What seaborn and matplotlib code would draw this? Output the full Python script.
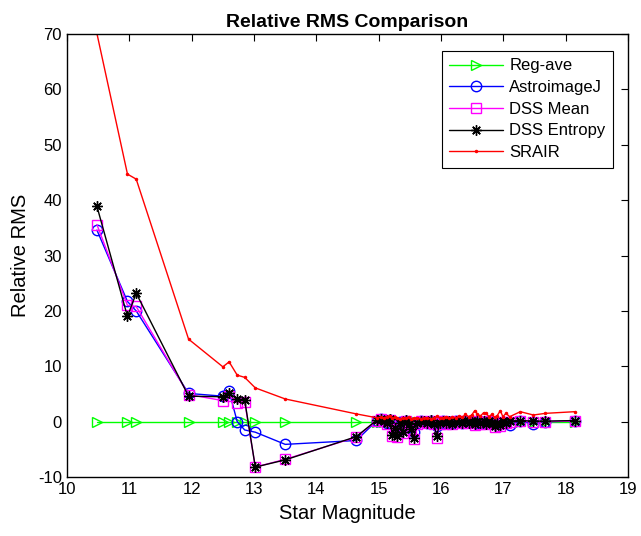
import matplotlib
matplotlib.use("Agg")
import matplotlib.pyplot as plt
import seaborn as sns
import pandas as pd

# Star magnitudes shared by all photometry methods
star_mag = [10.48, 10.97, 11.11, 11.95, 12.50, 12.60, 12.73, 12.85, 13.02, 13.50, 14.64,
            14.97, 15.03, 15.08, 15.13, 15.18, 15.22, 15.26, 15.30, 15.34, 15.39, 15.43,
            15.48, 15.52, 15.56, 15.61, 15.67, 15.72, 15.78, 15.83, 15.88, 15.93, 15.98,
            16.03, 16.08, 16.13, 16.18, 16.24, 16.29, 16.34, 16.39, 16.44, 16.49, 16.54,
            16.58, 16.63, 16.68, 16.72, 16.77, 16.81, 16.86, 16.90, 16.95, 16.99, 17.04,
            17.10, 17.27, 17.48, 17.67, 18.14]

reg_ave = [0.0] * len(star_mag)

astroimagej = [34.6, 21.7, 20.0, 5.1, 4.6, 5.5, 0.0, -1.5, -1.9, -4.1, -3.4,
               0.2, 0.4, 0.1, -0.2, 0.3, -0.5, -0.3, -0.6, -0.1, -1.0, 0.2,
               -0.9, -0.4, -1.8, -0.2, 0.1, 0.0, -0.2, 0.2, -0.3, -0.8, -0.2,
               0.1, -0.2, 0.0, -0.3, 0.1, -0.1, -0.2, 0.2, -0.1, 0.0, -0.3,
               0.1, -0.2, 0.0, -0.3, 0.1, -0.2, -0.5, -0.2, -0.4, 0.0, -0.2,
               -0.6, 0.1, -0.4, 0.0, 0.1]

dss_mean = [35.6, 21.0, 20.8, 4.9, 3.8, 4.7, 3.4, 3.6, -8.2, -6.8, -2.8,
            0.2, 0.4, 0.1, -0.4, 0.3, -2.6, -1.3, -2.8, -0.3, -2.0, 0.2,
            -0.6, -1.5, -3.1, -0.4, 0.1, 0.0, -0.3, 0.2, -0.5, -2.9, -0.4,
            0.1, -0.4, 0.0, -0.5, 0.1, -0.1, -0.3, 0.2, -0.3, 0.0, -0.6,
            0.1, -0.4, 0.0, -0.5, 0.1, -0.3, -0.9, -0.4, -0.7, 0.0, -0.3,
            0.0, 0.1, 0.0, 0.0, 0.1]

dss_entropy = [38.9, 19.0, 23.2, 4.6, 4.5, 5.1, 4.1, 3.9, -8.2, -6.9, -2.7,
               0.3, 0.5, 0.2, -0.3, 0.4, -2.4, -1.2, -2.6, -0.2, -1.9, 0.3,
               -0.5, -1.4, -3.0, -0.3, 0.2, 0.1, -0.2, 0.3, -0.4, -2.5, -0.3,
               0.2, -0.3, 0.1, -0.4, 0.2, 0.0, -0.2, 0.3, -0.2, 0.1, -0.5,
               0.2, -0.3, 0.1, -0.4, 0.2, -0.2, -0.8, -0.3, -0.6, 0.1, -0.2,
               0.1, 0.2, 0.1, 0.1, 0.2]

srair = [70.1, 44.7, 43.8, 14.9, 9.9, 10.8, 8.4, 8.0, 6.1, 4.1, 1.4,
         0.7, 0.8, 0.6, 0.9, 1.1, 0.6, 0.8, 0.7, 0.5, 0.7, 0.6,
         0.8, 0.5, 0.6, 0.7, 0.5, 0.6, 0.7, 0.5, 0.6, 1.0, 0.6,
         0.7, 0.9, 0.6, 0.8, 0.7, 1.0, 0.8, 1.3, 0.9, 1.2, 2.0,
         1.4, 1.0, 1.6, 1.5, 0.9, 1.3, 0.8, 1.1, 2.0, 0.9, 1.5,
         0.9, 1.8, 1.2, 1.5, 1.8]

# (label, values, marker, colour, marker size, filled)
series = [
    ("Reg-ave", reg_ave, ">", (0, 1, 0), 7, False),
    ("AstroimageJ", astroimagej, "o", (0, 0, 1), 7.5, False),
    ("DSS Mean", dss_mean, "s", (1, 0, 1), 6.5, False),
    ("DSS Entropy", dss_entropy, (8, 2, 0), (0, 0, 0), 7.5, False),
    ("SRAIR", srair, ".", (1, 0, 0), 3, True),
]

sns.set_style("white")
plt.rcParams["font.family"] = ["Liberation Sans", "DejaVu Sans"]
plt.rcParams["axes.unicode_minus"] = False
plt.rcParams["text.color"] = "black"
plt.rcParams["axes.labelcolor"] = "black"

fig = plt.figure(figsize=(6.41, 5.36), dpi=100)
ax = fig.add_axes([0.1045, 0.110, 0.8755, 0.8265])

for name, vals, mk, col, ms, filled in series:
    df = pd.DataFrame({"mag": star_mag, "rms": vals})
    sns.lineplot(data=df, x="mag", y="rms", ax=ax, sort=False, estimator=None,
                 color=col, linewidth=1.0, marker=mk, markersize=ms,
                 markerfacecolor=col if filled else "none",
                 markeredgecolor=col, markeredgewidth=1.0, label=name)

ax.set_xlim(10, 19)
ax.set_ylim(-10, 70)
ax.set_xticks(range(10, 20))
ax.set_yticks(range(-10, 71, 10))
ax.tick_params(direction="in", top=True, right=True, length=5, width=0.8,
               labelsize=12, colors="black")
for sp in ax.spines.values():
    sp.set_color("black")
    sp.set_linewidth(1.0)

ax.set_xlabel("Star Magnitude", fontsize=14.5, labelpad=5)
ax.set_ylabel("Relative RMS", fontsize=14.5, labelpad=6)
ax.set_title("Relative RMS Comparison", fontsize=14, fontweight="bold", pad=5)

leg = ax.legend(loc="upper right", bbox_to_anchor=(0.973, 0.962), borderaxespad=0,
                fontsize=12, frameon=True, fancybox=False, framealpha=1,
                edgecolor="black", handlelength=3.2, handletextpad=0.4,
                borderpad=0.45, labelspacing=0.4)
leg.get_frame().set_linewidth(0.8)

fig.savefig("out.png", dpi=100)
